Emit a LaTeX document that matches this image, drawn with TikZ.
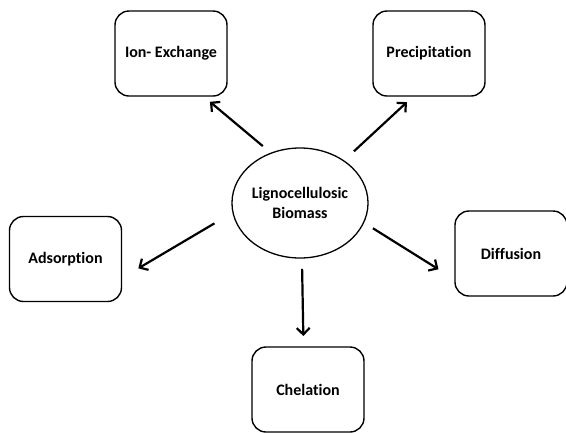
\documentclass[tikz,border=0pt]{standalone}
\usepackage{fontspec}
\setmainfont{Carlito}[Ligatures=NoCommon]
\usetikzlibrary{arrows.meta,shapes.geometric}

\begin{document}
\begin{tikzpicture}[x=1pt, y=-1pt,
		proc/.style={draw, line width=1.4pt, rounded corners=14pt, minimum width=112pt, minimum height=85pt, inner sep=0pt, outer sep=0pt, font=\fontsize{16}{19}\selectfont\bfseries},
		flow/.style={line width=2.2pt, -{Straight Barb[length=6.5pt, width=13pt]}}]
			%%%%% START %%%%%
			
			\useasboundingbox[fill=white] (0, 0) rectangle (566, 432);
			
			\node[ellipse, draw, line width=1.3pt, minimum width=124pt, minimum height=110pt, inner sep=0pt, outer sep=0pt, align=center, font=\fontsize{16}{20}\selectfont\bfseries] (bio) at (300, 203) {Lignocellulosic\\Biomass};
			
			\node[proc] (ion) at (171, 53.5) {Ion- Exchange};
			\node[proc] (prec) at (429, 53.5) {Precipitation};
			\node[proc] (ads) at (65.5, 259) {Adsorption};
			\node[proc] (diff) at (511, 253.5) {Diffusion};
			\node[proc] (chel) at (308, 389.5) {Chelation};
			
			\draw[flow, shorten <=11pt, shorten >=9pt] (bio.120) -- (ion.-53);
			\draw[flow, shorten <=14pt, shorten >=9pt] (bio.44) -- (prec.-110);
			\draw[flow, shorten <=21.5pt, shorten >=19.5pt] (bio.188) -- (ads.-19.5);
			\draw[flow, shorten <=11pt, shorten >=19.5pt] (bio.-17) -- (diff.205);
			\draw[flow, shorten <=11pt, shorten >=11pt] (bio.-88) -- (chel.96);
			
			%%%%% END %%%%%
		\end{tikzpicture}
\end{document}
